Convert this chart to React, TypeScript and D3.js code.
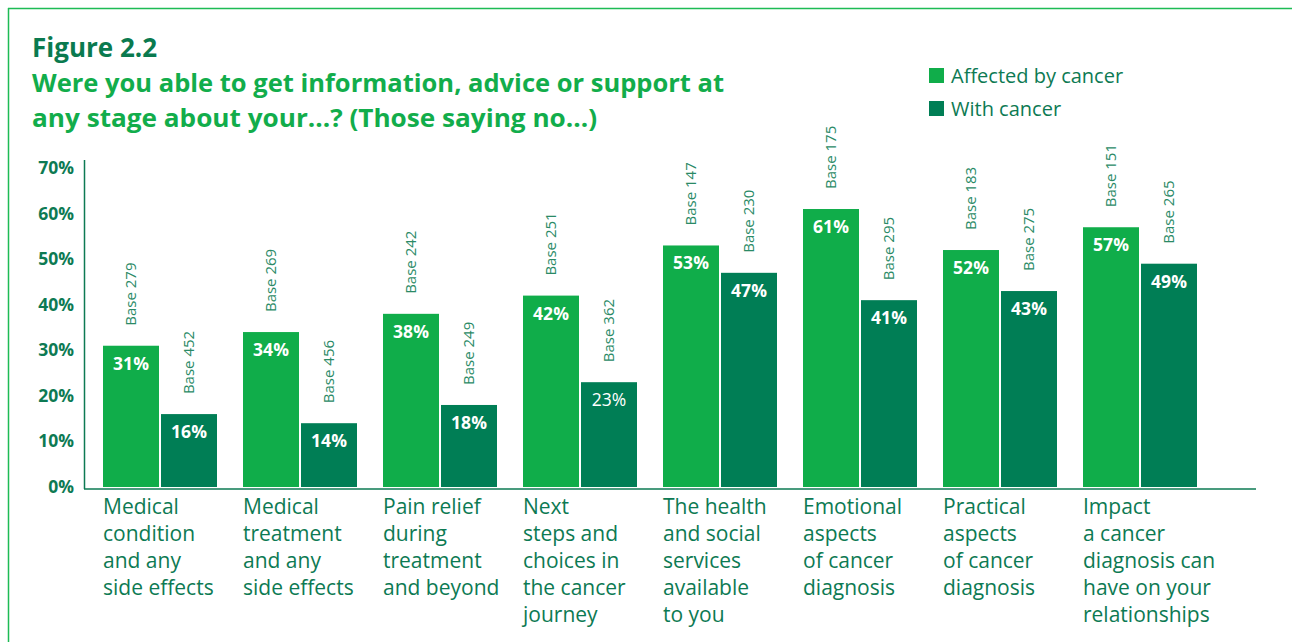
import React from "react";
import * as d3 from "d3";

const categories: string[][] = [
  ["Medical", "condition", "and any", "side effects"],
  ["Medical", "treatment", "and any", "side effects"],
  ["Pain relief", "during", "treatment", "and beyond"],
  ["Next", "steps and", "choices in", "the cancer", "journey"],
  ["The health", "and social", "services", "available", "to you"],
  ["Emotional", "aspects", "of cancer", "diagnosis"],
  ["Practical", "aspects", "of cancer", "diagnosis"],
  ["Impact", "a cancer", "diagnosis can", "have on your", "relationships"],
];
const seriesNames = ["Affected by cancer", "With cancer"];
const affected = [31, 34, 38, 42, 53, 61, 52, 57];
const withCancer = [16, 14, 18, 23, 47, 41, 43, 49];
const baseAffected = [279, 269, 242, 251, 147, 175, 183, 151];
const baseWith = [452, 456, 249, 362, 230, 295, 275, 265];
const yTicks = [0, 10, 20, 30, 40, 50, 60, 70];

const LIGHT = "#10ad4a";
const DARK = "#007e55";
const TEXT = "#0d7a53";
const FONT = "'Open Sans', Lato, sans-serif";

export default function App() {
  const W = 1292, H = 642;
  const y = d3.scaleLinear().domain([0, 70]).range([487, 168]);
  const idx = categories.map((_, i) => String(i));
  const x0 = d3.scaleBand().domain(idx).range([84, 1216]).paddingInner(26 / 140).paddingOuter(19 / 140);
  const x1 = d3.scaleBand().domain(seriesNames).range([0, x0.bandwidth()]).paddingInner(2 / 58);
  const series = [affected, withCancer];
  const bases = [baseAffected, baseWith];
  const colors = [LIGHT, DARK];

  return (
    <svg width={W} height={H} style={{ position: "absolute", left: 0, top: 0, background: "#fff" }} fontFamily={FONT}>
      {/* border */}
      <line x1={8} y1={8.5} x2={W} y2={8.5} stroke="#1dbb55" strokeWidth={1.5} />
      <line x1={8.5} y1={8} x2={8.5} y2={H} stroke="#1dbb55" strokeWidth={1.5} />

      {/* title */}
      <text x={32} y={57} fontSize={26} fontWeight={700} fill="#0a7a4f">Figure 2.2</text>
      <text x={32} y={92} fontSize={25} fontWeight={700} fill="#12ad4b" textLength={692} lengthAdjust="spacingAndGlyphs">Were you able to get information, advice or support at</text>
      <text x={32} y={127} fontSize={25} fontWeight={700} fill="#12ad4b" textLength={565} lengthAdjust="spacingAndGlyphs">any stage about your...? (Those saying no...)</text>

      {/* legend */}
      {seriesNames.map((s, i) => (
        <g key={s} transform={`translate(929, ${68 + i * 33})`}>
          <rect width={15} height={15} fill={colors[i]} />
          <text x={22} y={15} fontSize={20} fill={TEXT}>{s}</text>
        </g>
      ))}

      {/* axes */}
      <line x1={84.5} y1={160} x2={84.5} y2={489} stroke={TEXT} strokeWidth={1.5} />
      <line x1={84} y1={489} x2={1256} y2={489} stroke={TEXT} strokeWidth={1.5} />
      {yTicks.map((t) => (
        <text key={t} x={74} y={y(t) + 6} textAnchor="end" fontSize={17.5} fontWeight={700} fill={TEXT}>{t}%</text>
      ))}

      {/* bars */}
      {categories.map((c, i) => (
        <g key={i} transform={`translate(${x0(String(i))},0)`}>
          {seriesNames.map((s, j) => {
            const v = series[j][i];
            const bx = x1(s)!;
            const bw = x1.bandwidth();
            const top = y(v);
            const cx = bx + bw / 2;
            const isNormal = j === 1 && i === 3;
            return (
              <g key={s}>
                <rect x={bx} y={top} width={bw} height={y(0) - top} fill={colors[j]} />
                <text x={cx} y={top + 24} textAnchor="middle" fontSize={17.5} fontWeight={isNormal ? 400 : 700} fill="#fff">{v}%</text>
                <text transform={`translate(${cx + 5},${top - 20}) rotate(-90)`} fontSize={15} fill="#2a8a66">Base {bases[j][i]}</text>
              </g>
            );
          })}
          {c.map((line, k) => (
            <text key={k} x={0} y={514 + k * 27} fontSize={21} fill={TEXT}>{line}</text>
          ))}
        </g>
      ))}
    </svg>
  );
}
